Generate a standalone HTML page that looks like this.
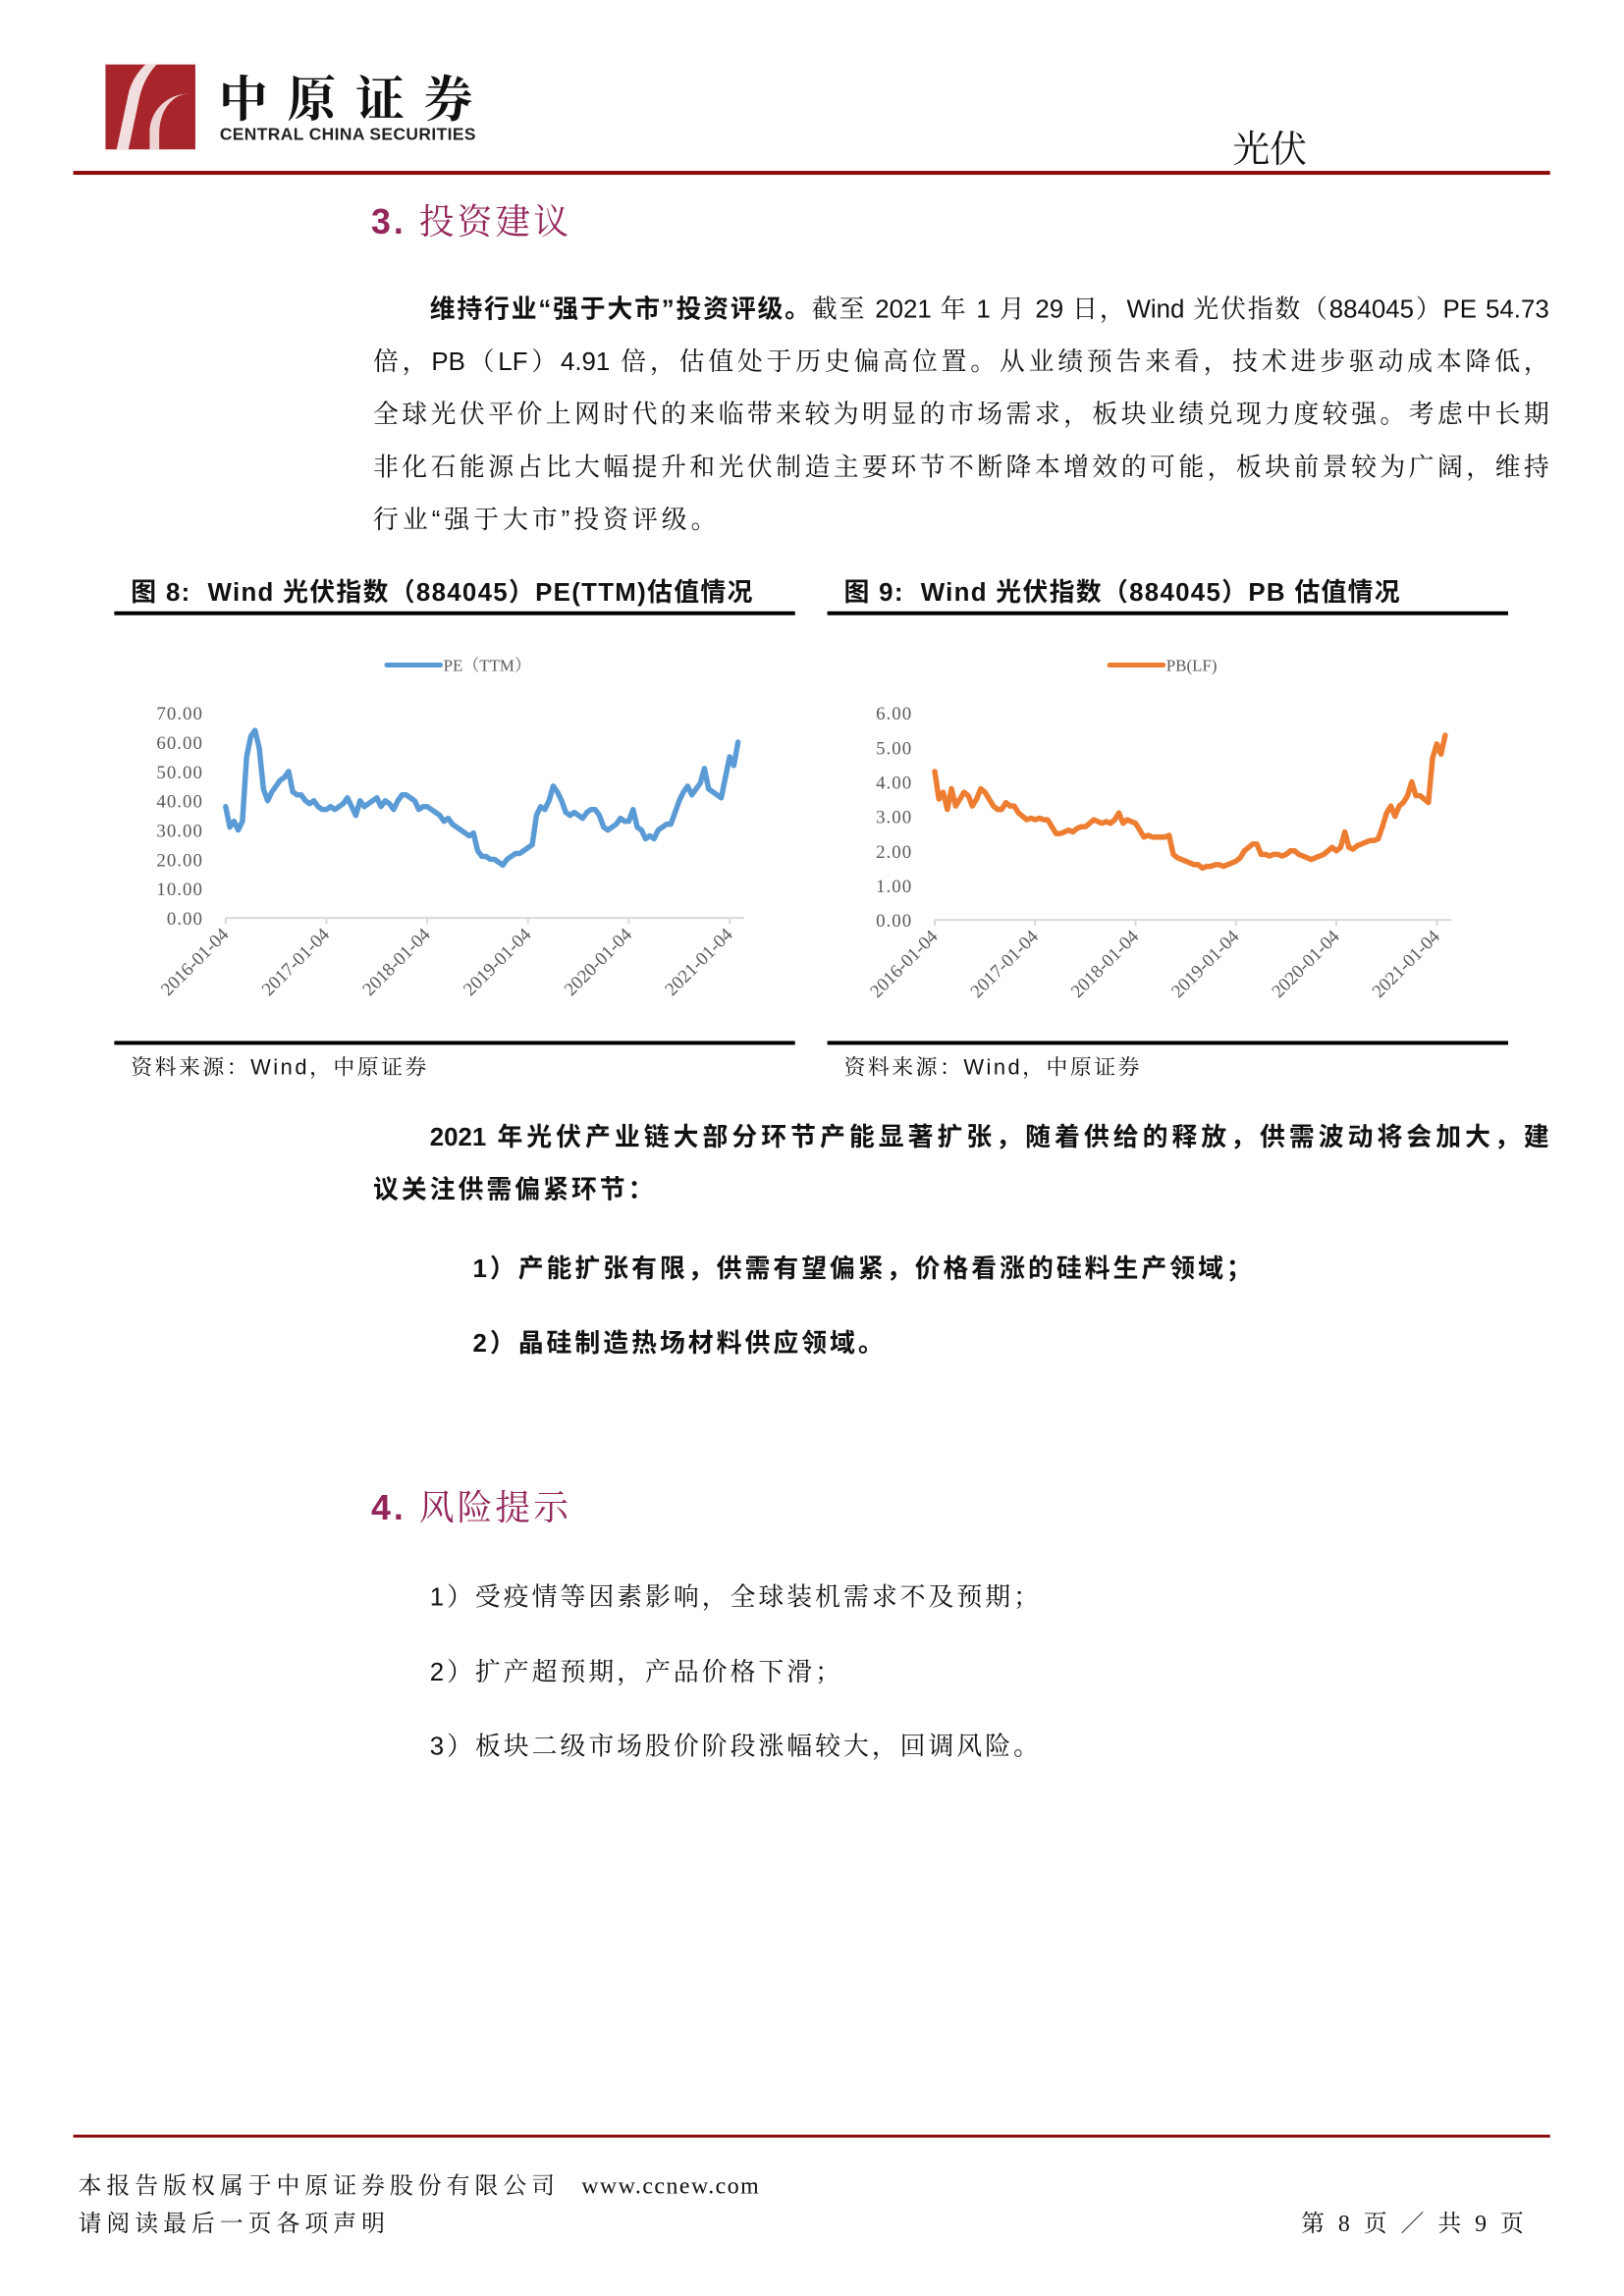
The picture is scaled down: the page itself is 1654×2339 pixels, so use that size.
<!DOCTYPE html>
<html><head><meta charset="utf-8">
<style>
html,body{margin:0;padding:0;background:#fff;}
body{width:1654px;height:2339px;position:relative;overflow:hidden;font-family:"Liberation Sans","Noto Serif CJK SC",serif;color:#111;}
#wrap{position:absolute;left:0;top:0;width:1654px;height:2339px;transform:scale(0.9948);transform-origin:0 0;}
.abs{position:absolute;white-space:nowrap;}
.bold{font-family:"Liberation Sans","Noto Sans CJK SC",sans-serif;font-weight:bold;}
.para{position:absolute;left:382px;width:1204px;font-size:26px;line-height:30px;text-align:justify;text-align-last:justify;white-space:nowrap;}
.h{font-size:36px;color:#93255a;font-family:"Liberation Sans","Noto Serif CJK SC",serif;letter-spacing:3px;}
.h b{font-family:"Liberation Sans",sans-serif;}
.ctitle{font-size:26px;font-weight:bold;font-family:"Liberation Sans","Noto Sans CJK SC",sans-serif;letter-spacing:1.3px;}
.rule{position:absolute;background:#000;}
</style></head>
<body>
<div id="wrap">
<div class="abs" style="left:108px;top:66px;width:92px;height:87px;background:#a8262b;overflow:hidden;">
  <div style="position:absolute;left:20px;top:-20px;width:70px;height:140px;border-left:12px solid #fff;border-radius:60px 0 0 0;transform:rotate(12deg);opacity:.85"></div>
  <div style="position:absolute;left:45px;top:30px;width:60px;height:90px;border-left:10px solid #fff;border-radius:40px 0 0 0;opacity:.8"></div>
</div>
<div class="abs" style="left:224px;top:70px;font-size:50px;font-weight:bold;font-family:'Noto Serif CJK SC',serif;letter-spacing:20px;line-height:56px;">中原证券</div>
<div class="abs bold" style="left:225px;top:127px;font-size:17.5px;letter-spacing:0.4px;color:#222;">CENTRAL CHINA SECURITIES</div>
<div class="abs" style="left:1262px;top:122px;font-size:38px;font-family:'Noto Serif CJK SC',serif;">光伏</div>
<div class="abs" style="left:75px;top:175px;width:1512px;height:4px;background:#8b0a0a;"></div>

<div class="abs h" style="left:380px;top:199px;"><b>3.</b> 投资建议</div>

<div>
<div class="para" style="top:301px;left:440px;width:1146px;"><span class="bold">维持行业“强于大市”投资评级。</span>截至 2021 年 1 月 29 日，Wind 光伏指数（884045）PE 54.73</div>
<div class="para" style="top:355px;">倍，PB（LF）4.91 倍，估值处于历史偏高位置。从业绩预告来看，技术进步驱动成本降低，</div>
<div class="para" style="top:409px;">全球光伏平价上网时代的来临带来较为明显的市场需求，板块业绩兑现力度较强。考虑中长期</div>
<div class="para" style="top:463px;">非化石能源占比大幅提升和光伏制造主要环节不断降本增效的可能，板块前景较为广阔，维持</div>
<div class="para" style="top:517px;text-align-last:left;letter-spacing:4px;">行业“强于大市”投资评级。</div>
</div>

<div class="abs ctitle" style="left:134px;top:586px;">图 8:&nbsp; Wind 光伏指数（884045）PE(TTM)估值情况</div>
<div class="rule" style="left:117px;top:626px;width:697px;height:4px;"></div>
<div class="abs ctitle" style="left:864px;top:586px;">图 9:&nbsp; Wind 光伏指数（884045）PB 估值情况</div>
<div class="rule" style="left:847px;top:626px;width:697px;height:4px;"></div>

<svg id="charts" width="1654" height="1100" style="position:absolute;left:0;top:0;" xmlns="http://www.w3.org/2000/svg"></svg>

<div class="rule" style="left:117px;top:1066px;width:697px;height:4px;"></div>
<div class="rule" style="left:847px;top:1066px;width:697px;height:4px;"></div>
<div class="abs" style="left:134px;top:1076px;font-size:22px;letter-spacing:2.5px;">资料来源：Wind，中原证券</div>
<div class="abs" style="left:864px;top:1076px;font-size:22px;letter-spacing:2.5px;">资料来源：Wind，中原证券</div>

<div>
<div class="para bold" style="top:1149px;left:440px;width:1146px;">2021 年光伏产业链大部分环节产能显著扩张，随着供给的释放，供需波动将会加大，建</div>
<div class="para bold" style="top:1203px;text-align-last:left;letter-spacing:3px;">议关注供需偏紧环节：</div>
</div>
<div class="abs bold" style="left:484px;top:1279px;font-size:26px;letter-spacing:3px;">1）产能扩张有限，供需有望偏紧，价格看涨的硅料生产领域；</div>
<div class="abs bold" style="left:484px;top:1355px;font-size:26px;letter-spacing:3px;">2）晶硅制造热场材料供应领域。</div>

<div class="abs h" style="left:380px;top:1516px;"><b>4.</b> 风险提示</div>
<div class="abs" style="left:440px;top:1615px;font-size:26px;letter-spacing:3px;">1）受疫情等因素影响，全球装机需求不及预期；</div>
<div class="abs" style="left:440px;top:1692px;font-size:26px;letter-spacing:3px;">2）扩产超预期，产品价格下滑；</div>
<div class="abs" style="left:440px;top:1768px;font-size:26px;letter-spacing:3px;">3）板块二级市场股价阶段涨幅较大，回调风险。</div>

<div class="abs" style="left:75px;top:2186px;width:1512px;height:3px;background:#8b0a0a;"></div>
<div class="abs" style="left:80px;top:2218px;font-size:24px;font-family:'Noto Serif CJK SC',serif;letter-spacing:5px;">本报告版权属于中原证券股份有限公司&nbsp;&nbsp;<span style="font-family:'Liberation Serif',serif;letter-spacing:1.5px;">www.ccnew.com</span></div>
<div class="abs" style="left:80px;top:2257px;font-size:24px;font-family:'Noto Serif CJK SC',serif;letter-spacing:5px;">请阅读最后一页各项声明</div>
<div class="abs" style="right:90px;top:2257px;font-size:24px;font-family:'Liberation Serif','Noto Serif CJK SC',serif;letter-spacing:4px;">第 8 页 ／ 共 9 页</div>
</div>

<script>
// PE(TTM) semi-monthly values, 2016-01 .. 2021-01
const peValues = [
38,31,33,30,33,55,62,64,58,44,40,43,45,47,48,50,43,42,42,40,39,40,38,37,
37,38,37,38,39,41,38,35,40,38,39,40,41,38,40,39,37,40,42,42,41,40,37,38,
38,37,36,35,33,34,32,31,30,29,28,29,23,21,21,20,20,19,18,20,21,22,22,23,
24,25,35,38,37,40,45,43,40,36,35,36,35,34,36,37,37,35,31,30,31,32,34,33,
33,37,31,30,27,28,27,30,31,32,32,36,40,43,45,42,44,46,51,44,43,42,41,48,
55,52,60];
// PB(LF) semi-monthly values
const pbValues = [
4.3,3.5,3.7,3.2,3.8,3.3,3.5,3.7,3.6,3.3,3.5,3.8,3.7,3.5,3.3,3.2,3.2,3.4,3.3,3.3,3.1,3.0,2.9,2.95,
2.9,2.95,2.9,2.9,2.7,2.5,2.5,2.55,2.6,2.55,2.65,2.7,2.7,2.8,2.9,2.85,2.8,2.85,2.8,2.9,3.1,2.8,2.9,2.85,
2.8,2.6,2.4,2.45,2.4,2.4,2.4,2.4,2.45,1.9,1.8,1.75,1.7,1.65,1.6,1.6,1.5,1.55,1.55,1.6,1.6,1.55,1.6,1.65,
1.7,1.8,2.0,2.1,2.2,2.2,1.9,1.9,1.85,1.9,1.9,1.85,1.9,2.0,2.0,1.9,1.85,1.8,1.75,1.8,1.85,1.9,2.0,2.1,
2.0,2.1,2.55,2.1,2.05,2.15,2.2,2.25,2.3,2.3,2.35,2.7,3.1,3.3,3.0,3.3,3.4,3.6,4.0,3.6,3.6,3.5,3.4,4.7,
5.1,4.8,5.35];
const xTickLabels = ["2016-01-04","2017-01-04","2018-01-04","2019-01-04","2020-01-04","2021-01-04"];
const peTicks = [0,10,20,30,40,50,60,70];
const pbTicks = [0,1,2,3,4,5,6];
const peLegend = "PE（TTM）";
const pbLegend = "PB(LF)";

const NS="http://www.w3.org/2000/svg";
const svg=document.getElementById('charts');
function mk(tag,attrs){const e=document.createElementNS(NS,tag);for(const k in attrs)e.setAttribute(k,attrs[k]);svg.appendChild(e);return e;}

function drawChart(cfg){
  const {x0,x1,y0,yTop,max,ticks,values,color,legend,legendX,prefix,labelRight}=cfg;
  const perYear=24;
  const xs=t=>x0+(x1-x0)*t/5;
  const ys=v=>y0-(y0-yTop)*v/max;
  ticks.forEach(v=>{
    const t=mk('text',{x:labelRight,y:ys(v)+7,'text-anchor':'end','font-size':19,'letter-spacing':1,fill:'#595959','font-family':'Liberation Serif, serif'});
    t.textContent=v.toFixed(2);
    
    
  });
  const ax=mk('line',{x1:x0,y1:y0,x2:xs(values.length/perYear)+2,y2:y0,stroke:'#d9d9d9','stroke-width':2});
  
  
  xTickLabels.forEach((lab,i)=>{
    const x=xs(i);
    const tk=mk('line',{x1:x,y1:y0,x2:x,y2:y0+6,stroke:'#d9d9d9','stroke-width':2});
    
    
    const t=mk('text',{x:x+4,y:y0+18,'text-anchor':'end','font-size':19,fill:'#595959','font-family':'Liberation Serif, serif',transform:`rotate(-45 ${x+4} ${y0+18})`});
    t.textContent=lab;
    
    
  });
  let d='';
  values.forEach((v,i)=>{d+=(i?'L':'M')+xs(i/perYear).toFixed(1)+' '+ys(v).toFixed(1);});
  const p=mk('path',{d:d,fill:'none',stroke:color,'stroke-width':5.5,'stroke-linejoin':'round','stroke-linecap':'round'});
  
  
  const ll=mk('line',{x1:legendX,y1:681,x2:legendX+55,y2:681,stroke:color,'stroke-width':5,'stroke-linecap':'round'});
  
  
  const lt=mk('text',{x:legendX+58,y:687,'font-size':17,fill:'#595959','font-family':'Liberation Serif, Noto Serif CJK SC, serif'});
  lt.textContent=legend;
  
  
}
drawChart({x0:231,x1:747,y0:940,yTop:730,max:70,ticks:peTicks,values:peValues,color:'#5b9bd5',legend:peLegend,legendX:396,prefix:'pe-chart',labelRight:208});
drawChart({x0:957,x1:1471,y0:942,yTop:730,max:6,ticks:pbTicks,values:pbValues,color:'#ed7d31',legend:pbLegend,legendX:1136,prefix:'pb-chart',labelRight:934});
</script>
</body></html>
